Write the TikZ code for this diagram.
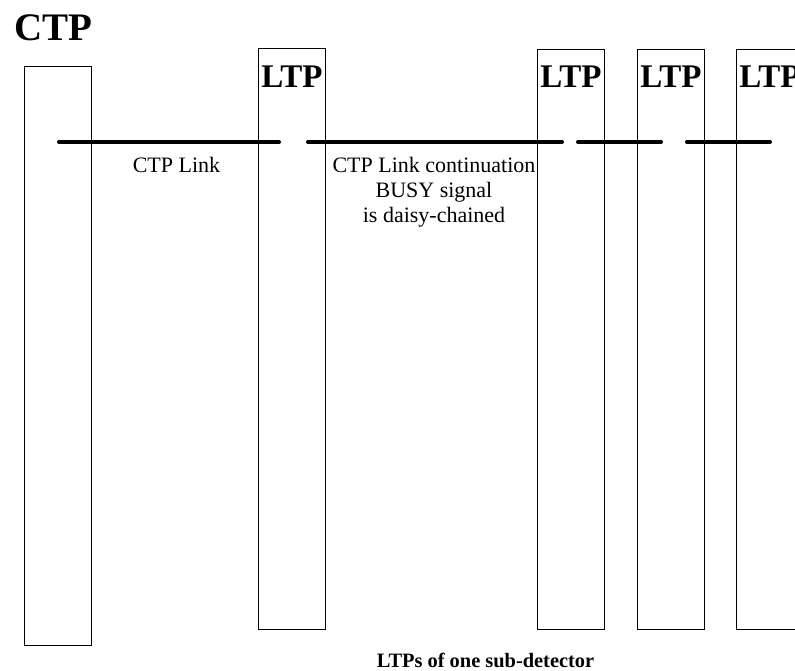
\documentclass[tikz,border=0pt]{standalone}
\usepackage{fontspec}
\setmainfont{Liberation Serif}
\begin{document}
\begin{tikzpicture}[x=1pt,y=-1pt,
  unitbox/.style={draw=black, line width=1pt, minimum width=67pt, inner sep=0pt, anchor=north west},
  link/.style={line width=4pt, line cap=round},
  biglabel/.style={font=\bfseries\fontsize{33}{33}\selectfont, inner sep=0pt, anchor=base},
  lbl/.style={font=\fontsize{22}{25}\selectfont, inner sep=0pt, align=center}]
\useasboundingbox (0,0) rectangle (795,671);
\clip (0,0) rectangle (795,671);
% boxes
\node[unitbox, minimum height=579pt] (ctp) at (24,66) {};
\node[unitbox, minimum height=581pt] (ltpA) at (258,48) {};
\node[unitbox, minimum height=580pt] (ltpB) at (537,49) {};
\node[unitbox, minimum height=580pt] (ltpC) at (637,49) {};
\node[unitbox, minimum height=580pt] (ltpD) at (736,49) {};
% titles
\node[biglabel, font=\bfseries\fontsize{39}{39}\selectfont, anchor=base west] (ctptitle) at (14,41) {CTP};
\node[biglabel] (ltpAt) at (ltpA.center |- 0,88) {LTP};
\node[biglabel] (ltpBt) at (ltpB.center |- 0,88) {LTP};
\node[biglabel] (ltpCt) at (ltpC.center |- 0,88) {LTP};
\node[biglabel] (ltpDt) at (ltpD.center |- 0,88) {LTP};
% link segments
\coordinate (s1a) at (59,142);  \coordinate (s1b) at (279,142);
\coordinate (s2a) at (308,142); \coordinate (s2b) at (562,142);
\coordinate (s3a) at (578,142); \coordinate (s3b) at (661,142);
\coordinate (s4a) at (687,142); \coordinate (s4b) at (770,142);
\draw[link] (s1a) -- (s1b);
\draw[link] (s2a) -- (s2b);
\draw[link] (s3a) -- (s3b);
\draw[link] (s4a) -- (s4b);
% labels
\node[lbl, anchor=base] (linklbl) at (176.5,173) {CTP Link};
\node[lbl, anchor=north] (contlbl) at (434,157) {CTP Link continuation\\BUSY signal\\is daisy-chained};
\node[inner sep=0pt, anchor=base, font=\bfseries\fontsize{20.4}{20.4}\selectfont] (bottomlbl) at (485.5,667) {LTPs of one sub-detector};
\end{tikzpicture}
\end{document}
